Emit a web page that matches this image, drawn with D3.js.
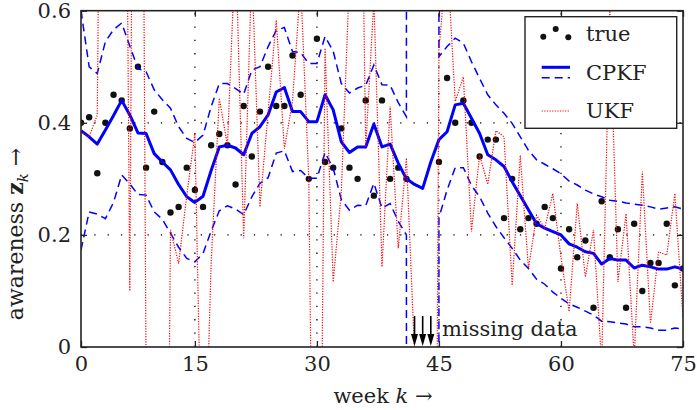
<!DOCTYPE html>
<html lang="en">
<head>
<meta charset="UTF-8">
<title>awareness</title>
<script src="https://d3js.org/d3.v7.min.js"></script>
<style>
  body { margin: 0; background: #fff; }
  text { font-family: "DejaVu Serif", serif; fill: #222; }
</style>
</head>
<body>
<div id="chart"></div>
<script>
// week index
var weeks = [1,2,3,4,5,6,7,8,9,10,11,12,13,14,15,16,17,18,19,20,21,22,23,24,25,
  26,27,28,29,30,31,32,33,34,35,36,37,38,39,40,41,42,43,44,45,46,47,48,49,50,
  51,52,53,54,55,56,57,58,59,60,61,62,63,64,65,66,67,68,69,70,71,72,73,74,75];

// true awareness (no data for weeks 42-44)
var trueVals = [0.40,0.41,0.31,0.40,0.45,0.44,0.39,0.50,0.32,0.42,
  0.33,0.24,0.25,0.32,0.28,0.25,0.36,0.38,0.36,0.29,
  0.43,0.34,0.42,0.50,0.43,0.43,0.52,0.45,0.30,0.55,
  0.33,0.32,0.39,0.32,0.30,0.44,0.27,0.44,0.30,0.32,
  0.30,null,null,null,0.33,0.48,0.40,0.44,0.40,0.34,
  0.37,0.37,0.23,0.30,0.21,0.23,0.22,0.25,0.23,0.14,
  0.21,0.16,0.19,0.07,0.26,0.16,0.21,0.07,0.22,0.10,
  0.15,0.15,0.22,0.11,0.14];

var cpkfMean = [0.386,0.375,0.362,0.387,0.413,0.440,0.414,0.382,0.381,0.345,
  0.330,0.316,0.290,0.268,0.258,0.269,0.315,0.357,0.360,0.355,
  0.343,0.381,0.393,0.414,0.455,0.463,0.420,0.420,0.402,0.402,
  0.450,0.423,0.366,0.347,0.357,0.357,0.398,0.357,0.362,0.328,
  0.300,0.290,0.283,0.330,0.370,0.384,0.432,0.435,0.408,0.381,
  0.343,0.334,0.322,0.295,0.270,0.245,0.220,0.212,0.206,0.200,
  0.184,0.178,0.170,0.167,0.148,0.158,0.155,0.155,0.141,0.146,
  0.143,0.139,0.139,0.143,0.139];

// bounds blow up while data are missing
var cpkfUpper = [0.600,0.500,0.488,0.545,0.566,0.578,0.537,0.497,0.491,0.459,
  0.441,0.426,0.393,0.372,0.365,0.378,0.429,0.470,0.470,0.461,
  0.451,0.494,0.500,0.536,0.565,0.570,0.527,0.525,0.506,0.506,
  0.554,0.528,0.470,0.453,0.462,0.467,0.503,0.468,0.467,0.436,
  0.411,50,50,50,0.518,0.536,0.551,0.542,0.509,0.479,
  0.450,0.432,0.417,0.399,0.375,0.351,0.334,0.326,0.318,0.309,
  0.296,0.289,0.280,0.273,0.268,0.262,0.260,0.257,0.255,0.253,
  0.250,0.246,0.248,0.250,0.246];

var cpkfLower = [0.173,0.241,0.237,0.229,0.258,0.307,0.291,0.272,0.271,0.241,
  0.228,0.203,0.178,0.158,0.152,0.167,0.207,0.243,0.252,0.246,
  0.236,0.268,0.292,0.302,0.346,0.350,0.313,0.315,0.301,0.301,
  0.347,0.319,0.263,0.244,0.253,0.252,0.292,0.248,0.256,0.224,
  0.200,-50,-50,-50,0.231,0.280,0.320,0.320,0.288,0.268,
  0.239,0.215,0.195,0.176,0.155,0.140,0.121,0.112,0.098,0.087,
  0.077,0.071,0.064,0.057,0.046,0.045,0.043,0.041,0.036,0.036,
  0.034,0.030,0.030,0.034,0.032];

// UKF estimate, often far outside the plotted range
var ukf = [0.384,0.375,0.414,2.0,2.5,2.0,0.100,2.5,-0.05,-1.5,
  -1.5,0.209,0.149,0.270,0.381,-0.35,0.150,0.444,0.360,0.720,
  0.194,0.680,0.250,0.420,0.583,0.354,0.438,0.650,0.300,-1.0,
  0.533,0.116,0.277,0.660,1.400,0.354,0.620,0.143,0.429,0.176,
  0.337,-0.01,-2.0,-2.0,0.530,0.700,0.438,0.482,0.206,0.343,
  0.290,0.386,0.375,0.110,0.342,0.140,0.235,0.212,0.274,0.160,
  0.063,0.256,0.125,0.209,-0.03,0.600,0.116,0.238,-0.02,0.313,
  0.042,0.170,0.164,0.274,0.051];

var missingWeeks = [42, 43, 44];

var xTickVals = [1, 15, 30, 45, 60, 75];
var xTickLabels = ["0", "15", "30", "45", "60", "75"];
var yTickVals = [0, 0.2, 0.4, 0.6];
var yTickLabels = ["0", "0.2", "0.4", "0.6"];
var xGrid = [15, 30, 45, 60];
var yGrid = [0.2, 0.4];

var W = 697, H = 410;
var pL = 81, pR = 683, pT = 10.7, pB = 347;

var svg = d3.select("#chart").append("svg")
    .attr("width", W)
    .attr("height", H);

var x = d3.scaleLinear().domain([1, 75]).range([pL, pR]);
var y = d3.scaleLinear().domain([0, 0.6]).range([pB, pT]);

svg.append("defs").append("clipPath").attr("id", "clip")
    .append("rect")
    .attr("x", pL).attr("y", pT)
    .attr("width", pR - pL).attr("height", pB - pT);

// dotted grid
var grid = svg.append("g").attr("stroke", "#000").attr("stroke-width", 1.3)
    .attr("stroke-dasharray", "1.3,12");
grid.selectAll(".gx").data(xGrid).enter().append("line")
    .attr("x1", function (d) { return x(d); }).attr("x2", function (d) { return x(d); })
    .attr("y1", pB).attr("y2", pT);
grid.selectAll(".gy").data(yGrid).enter().append("line")
    .attr("x1", pL).attr("x2", pR)
    .attr("y1", function (d) { return y(d); }).attr("y2", function (d) { return y(d); });

var plot = svg.append("g").attr("clip-path", "url(#clip)");

var rows = weeks.map(function (w, i) {
    return { w: w, t: trueVals[i], m: cpkfMean[i], up: cpkfUpper[i], lo: cpkfLower[i], u: ukf[i] };
});

// true values
plot.selectAll(".dot")
    .data(rows.filter(function (d) { return d.t !== null; }))
    .enter().append("circle")
    .attr("cx", function (d) { return x(d.w); })
    .attr("cy", function (d) { return y(d.t); })
    .attr("r", 3.2)
    .attr("fill", "#111");

function lineOf(key) {
    return d3.line()
        .x(function (d) { return x(d.w); })
        .y(function (d) { return y(d[key]); });
}

["up", "lo"].forEach(function (k) {
    plot.append("path").datum(rows)
        .attr("fill", "none").attr("stroke", "#0000ff")
        .attr("stroke-width", 1.5)
        .attr("stroke-dasharray", "8,5")
        .attr("d", lineOf(k));
});

plot.append("path").datum(rows)
    .attr("fill", "none").attr("stroke", "#0000ff")
    .attr("stroke-width", 3)
    .attr("stroke-linejoin", "round")
    .attr("d", lineOf("m"));

plot.append("path").datum(rows)
    .attr("fill", "none").attr("stroke", "#ff0000")
    .attr("stroke-width", 1.2)
    .attr("stroke-dasharray", "1.2,1.4")
    .attr("d", lineOf("u"));

// axes, ticks pointing inwards
var fs = "21px";
var gb = svg.append("g").attr("transform", "translate(0," + pB + ")")
    .call(d3.axisBottom(x).tickValues(xTickVals)
        .tickFormat(function (d, i) { return xTickLabels[i]; })
        .tickSizeInner(-6).tickSizeOuter(0).tickPadding(9));
var gt = svg.append("g").attr("transform", "translate(0," + pT + ")")
    .call(d3.axisTop(x).tickValues(xTickVals).tickFormat("")
        .tickSizeInner(-6).tickSizeOuter(0));
var gl = svg.append("g").attr("transform", "translate(" + pL + ",0)")
    .call(d3.axisLeft(y).tickValues(yTickVals)
        .tickFormat(function (d, i) { return yTickLabels[i]; })
        .tickSizeInner(-6).tickSizeOuter(0).tickPadding(10));
var gr = svg.append("g").attr("transform", "translate(" + pR + ",0)")
    .call(d3.axisRight(y).tickValues(yTickVals).tickFormat("")
        .tickSizeInner(-6).tickSizeOuter(0));
[gb, gt, gl, gr].forEach(function (g) {
    g.select(".domain").remove();
    g.selectAll(".tick line").attr("stroke", "#222").attr("stroke-width", 1.3);
    g.selectAll("text").attr("font-family", "DejaVu Serif").attr("font-size", fs).attr("fill", "#222");
});

svg.append("rect")
    .attr("x", pL).attr("y", pT)
    .attr("width", pR - pL).attr("height", pB - pT)
    .attr("fill", "none").attr("stroke", "#222").attr("stroke-width", 1.6);

// axis labels
var xl = svg.append("text").attr("x", 383).attr("y", 403)
    .attr("text-anchor", "middle").style("font-size", fs);
xl.append("tspan").text("week ");
xl.append("tspan").attr("font-style", "italic").text("k");
xl.append("tspan").text(" \u2192");

var yl = svg.append("text")
    .attr("transform", "translate(23,234) rotate(-90)")
    .attr("text-anchor", "middle").style("font-size", "22px");
yl.append("tspan").text("awareness ");
yl.append("tspan").attr("font-weight", "bold").text("z");
yl.append("tspan").attr("font-style", "italic").attr("font-size", "15px").attr("dy", 5).text("k");
yl.append("tspan").attr("dy", -5).text(" \u2192");

// missing data arrows
var arrows = svg.append("g");
missingWeeks.forEach(function (w) {
    var ax = x(w);
    arrows.append("line")
        .attr("x1", ax).attr("x2", ax).attr("y1", 316).attr("y2", 338)
        .attr("stroke", "#000").attr("stroke-width", 1.6);
    arrows.append("path")
        .attr("d", "M" + (ax - 3.5) + ",334 L" + (ax + 3.5) + ",334 L" + ax + ",346 Z")
        .attr("fill", "#000");
});
svg.append("text").attr("x", 442).attr("y", 336)
    .style("font-size", "21px").text("missing data");

// legend
var lg = svg.append("g");
lg.append("rect").attr("x", 525).attr("y", 16.7).attr("width", 151.7).attr("height", 111.6)
    .attr("fill", "#fff").attr("stroke", "#222").attr("stroke-width", 1.4);
[[543.3, 36.7], [555.7, 29], [568.3, 37.3]].forEach(function (p) {
    lg.append("circle").attr("cx", p[0]).attr("cy", p[1]).attr("r", 3).attr("fill", "#111");
});
lg.append("line").attr("x1", 541.7).attr("x2", 570).attr("y1", 67.3).attr("y2", 67.3)
    .attr("stroke", "#0000ff").attr("stroke-width", 3);
lg.append("line").attr("x1", 541.7).attr("x2", 570).attr("y1", 77.7).attr("y2", 77.7)
    .attr("stroke", "#0000ff").attr("stroke-width", 1.5).attr("stroke-dasharray", "8,5");
lg.append("line").attr("x1", 541.7).attr("x2", 570).attr("y1", 111).attr("y2", 111)
    .attr("stroke", "#ff0000").attr("stroke-width", 1.2).attr("stroke-dasharray", "1.2,1.4");
lg.append("text").attr("x", 586).attr("y", 41).style("font-size", "21px").text("true");
lg.append("text").attr("x", 586).attr("y", 80).style("font-size", "21px").text("CPKF");
lg.append("text").attr("x", 586).attr("y", 118).style("font-size", "21px").text("UKF");
</script>
</body>
</html>
